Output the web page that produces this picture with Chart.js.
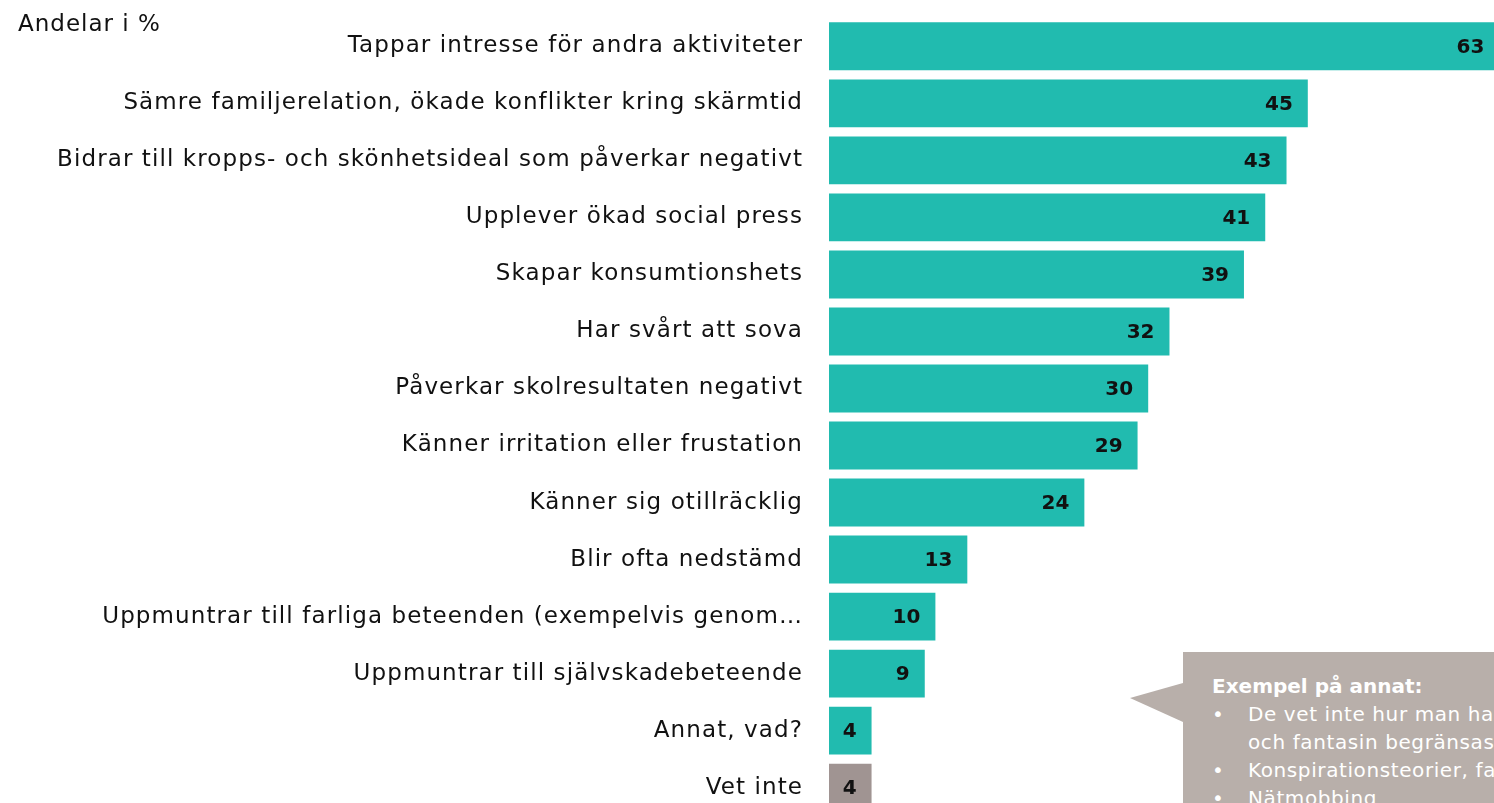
<!DOCTYPE html>
<html>
<head>
<meta charset="utf-8">
<script src="https://cdn.jsdelivr.net/npm/chart.js@4"></script>
<style>
  html, body { margin: 0; padding: 0; background: #fff; overflow: hidden; }
  body { width: 1494px; height: 803px; position: relative; }
  #chart { position: absolute; left: 0; top: -14px; }
  #title { position: absolute; left: 18px; top: 10px; font: 23px "DejaVu Sans", sans-serif; letter-spacing: 1px; color: #111; }
  #note { position: absolute; left: 1183px; top: 652px; width: 360px; height: 200px; background: #b8afaa;
          color: #fff; font: 20px "DejaVu Sans", sans-serif; letter-spacing: 0.6px; line-height: 28px; padding: 20px 0 0 29px; box-sizing: border-box; }
  #note:before { content: ""; position: absolute; left: -53px; top: 31px; border-style: solid;
          border-width: 15px 53px 24px 0; border-color: transparent #b8afaa transparent transparent; }
  #note b { display: block; letter-spacing: 0; }
  #note .li { padding-left: 36px; text-indent: -36px; white-space: nowrap; }
  #note .li span { display: inline-block; width: 36px; text-indent: 0; }
</style>
</head>
<body>
<canvas id="chart" width="1494" height="862"></canvas>
<div id="title">Andelar i %</div>
<div id="note">
  <b>Exempel på annat:</b>
  <div class="li"><span>•</span>De vet inte hur man hanterar tristess<br>och fantasin begränsas</div>
  <div class="li"><span>•</span>Konspirationsteorier, fake news</div>
  <div class="li"><span>•</span>Nätmobbing</div>
</div>
<script>
const categories = [
  'Tappar intresse för andra aktiviteter',
  'Sämre familjerelation, ökade konflikter kring skärmtid',
  'Bidrar till kropps- och skönhetsideal som påverkar negativt',
  'Upplever ökad social press',
  'Skapar konsumtionshets',
  'Har svårt att sova',
  'Påverkar skolresultaten negativt',
  'Känner irritation eller frustation',
  'Känner sig otillräcklig',
  'Blir ofta nedstämd',
  'Uppmuntrar till farliga beteenden (exempelvis genom…',
  'Uppmuntrar till självskadebeteende',
  'Annat, vad?',
  'Vet inte'
];
const values = [63, 45, 43, 41, 39, 32, 30, 29, 24, 13, 10, 9, 4, 4];
const barColors = values.map((v, i) => i === values.length - 1 ? '#a09492' : '#21bbaf');

// wider text, closer to the original Century Gothic look
const spacing = {
  id: 'spacing',
  beforeDraw(chart) { chart.ctx.letterSpacing = '1.1px'; }
};

const valueLabels = {
  id: 'valueLabels',
  afterDatasetsDraw(chart) {
    const ctx = chart.ctx;
    const meta = chart.getDatasetMeta(0);
    ctx.save();
    ctx.letterSpacing = '0px';
    ctx.font = 'bold 20px "DejaVu Sans", sans-serif';
    ctx.fillStyle = '#111';
    ctx.textAlign = 'right';
    ctx.textBaseline = 'middle';
    meta.data.forEach((bar, i) => {
      ctx.fillText(values[i], bar.x - 15, bar.y + 1);
    });
    ctx.restore();
  }
};

new Chart(document.getElementById('chart'), {
  type: 'bar',
  data: {
    labels: categories,
    datasets: [{
      data: values,
      backgroundColor: barColors,
      borderWidth: 0,
      barPercentage: 0.84,
      categoryPercentage: 1
    }]
  },
  options: {
    responsive: false,
    indexAxis: 'y',
    animation: false,
    layout: { padding: 0 },
    plugins: { legend: { display: false }, tooltip: { enabled: false } },
    scales: {
      x: {
        min: 0, max: 62.5,
        display: false
      },
      y: {
        grid: { display: false },
        border: { display: false },
        afterFit(axis) { axis.width = 829; },
        ticks: {
          color: '#111',
          padding: 18,
          font: { family: '"DejaVu Sans", sans-serif', size: 23 }
        }
      }
    }
  },
  plugins: [spacing, valueLabels]
});
</script>
</body>
</html>
